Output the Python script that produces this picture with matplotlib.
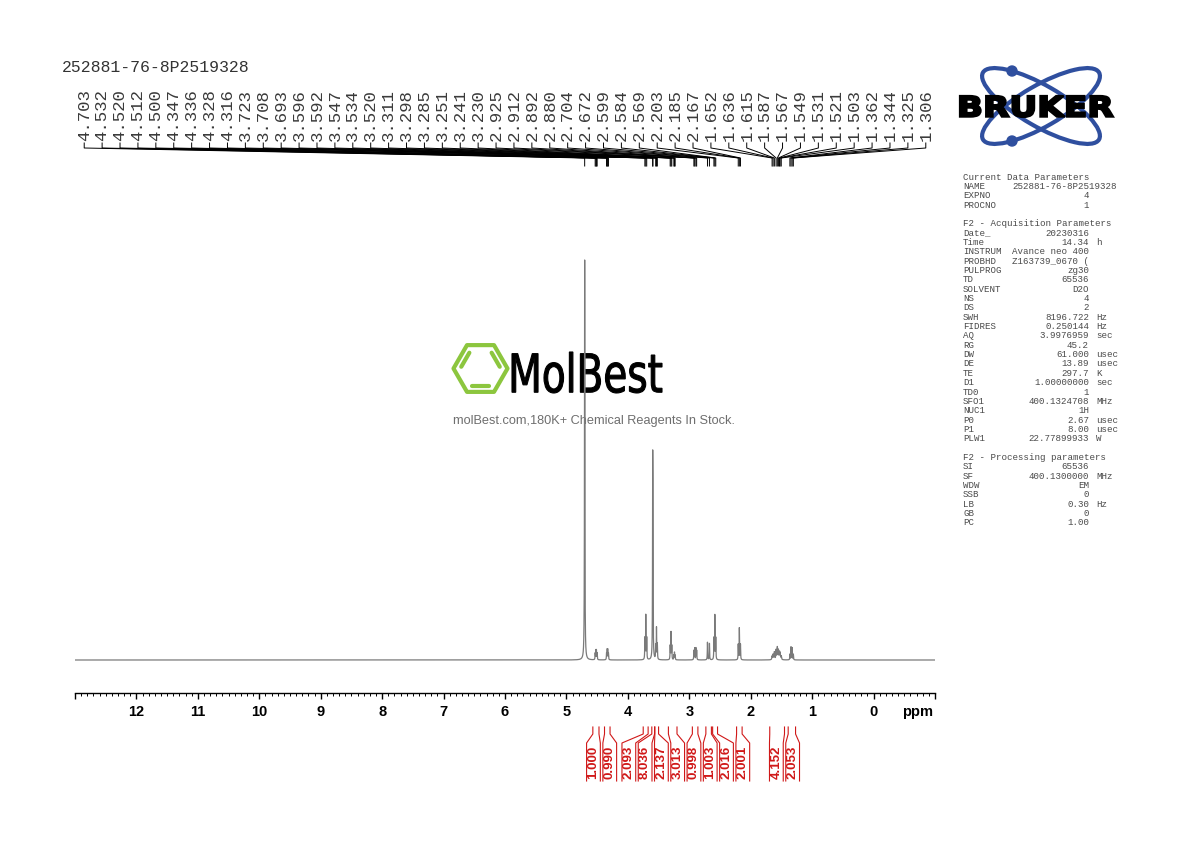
import numpy as np
import matplotlib
matplotlib.use("Agg")
import matplotlib.pyplot as plt
import matplotlib.transforms as mtransforms
from matplotlib.patches import Ellipse, Circle, PathPatch, Polygon
from matplotlib.textpath import TextPath
from matplotlib.font_manager import FontProperties
from matplotlib.ticker import MultipleLocator

W, H = 1190, 842

sample_name = "252881-76-8P2519328"

# picked peaks (ppm) and line heights relative to the tallest line (=100)
peak_ppm = np.array([
    4.703, 4.532, 4.520, 4.512, 4.500, 4.347, 4.336, 4.328, 4.316,
    3.723, 3.708, 3.693, 3.596, 3.592, 3.547, 3.534, 3.520,
    3.311, 3.298, 3.285, 3.251, 3.241, 3.230,
    2.925, 2.912, 2.892, 2.880, 2.704, 2.672, 2.599, 2.584, 2.569,
    2.203, 2.185, 2.167,
    1.652, 1.636, 1.615, 1.587, 1.567, 1.549, 1.531, 1.521, 1.503,
    1.362, 1.344, 1.325, 1.306])
peak_height = np.array([
    100, 1.6, 2.2, 2.2, 1.6, 1.6, 2.4, 2.4, 1.6,
    5.3, 11.0, 5.3, 40, 32, 3.3, 7.8, 3.8,
    3.4, 6.8, 3.4, 1.1, 1.8, 1.1,
    2.3, 2.9, 2.9, 2.3, 4.4, 4.1, 5.3, 11.0, 5.3,
    3.8, 7.9, 3.8,
    0.9, 1.3, 1.9, 2.4, 3.0, 2.3, 1.7, 1.4, 0.9,
    1.4, 3.2, 3.0, 1.4])

# integrals
integral_values = ["1.000", "0.990", "2.093", "8.036", "2.137", "3.013",
                   "0.998", "1.003", "2.016", "2.001", "4.152", "2.053"]
integral_from = [4.57, 4.38, 3.75, 3.61, 3.56, 3.34, 2.95, 2.73, 2.62, 2.23, 1.69, 1.39]
integral_to = [4.47, 4.29, 3.67, 3.565, 3.50, 3.20, 2.86, 2.64, 2.54, 2.14, 1.45, 1.27]

tick_values = list(range(-1, 14))

param_rows = [
    ("Current Data Parameters", None, None),
    ("NAME", sample_name, None),
    ("EXPNO", "4", None),
    ("PROCNO", "1", None),
    ("", None, None),
    ("F2 - Acquisition Parameters", None, None),
    ("Date_", "20230316", None),
    ("Time", "14.34", "h"),
    ("INSTRUM", "Avance neo 400", None),
    ("PROBHD", "Z163739_0670 (", None),
    ("PULPROG", "zg30", None),
    ("TD", "65536", None),
    ("SOLVENT", "D2O", None),
    ("NS", "4", None),
    ("DS", "2", None),
    ("SWH", "8196.722", "Hz"),
    ("FIDRES", "0.250144", "Hz"),
    ("AQ", "3.9976959", "sec"),
    ("RG", "45.2", None),
    ("DW", "61.000", "usec"),
    ("DE", "13.89", "usec"),
    ("TE", "297.7", "K"),
    ("D1", "1.00000000", "sec"),
    ("TD0", "1", None),
    ("SFO1", "400.1324708", "MHz"),
    ("NUC1", "1H", None),
    ("P0", "2.67", "usec"),
    ("P1", "8.00", "usec"),
    ("PLW1", "22.77899933", "W"),
    ("", None, None),
    ("F2 - Processing parameters", None, None),
    ("SI", "65536", None),
    ("SF", "400.1300000", "MHz"),
    ("WDW", "EM", None),
    ("SSB", "0", None),
    ("LB", "0.30", "Hz"),
    ("GB", "0", None),
    ("PC", "1.00", None),
]

RED = "#d01818"
GREY_TXT = "#4a4a4a"
MONO = "Liberation Mono"
SANS = "Liberation Sans"

fig = plt.figure(figsize=(W / 100, H / 100), dpi=100)

# overlay in pixel coordinates (y down) for page decorations
ov = fig.add_axes([0, 0, 1, 1])
ov.set_xlim(0, W)
ov.set_ylim(H, 0)
ov.axis("off")

ax = fig.add_axes([75 / W, 1 - 693 / H, 860 / W, (693 - 100) / H])
ax.set_zorder(2)
ax.patch.set_visible(False)

# spectrum built from the peak list (Lorentzian lines)
xs = np.linspace(13, -1, 140001)
widths = np.full(len(peak_ppm), 0.003)
widths[peak_ppm > 4.6] = 0.0035
widths[(peak_ppm > 1.45) & (peak_ppm < 1.7)] = 0.005
spec = (peak_height[:, None] /
        (1 + ((xs[None, :] - peak_ppm[:, None]) / widths[:, None]) ** 2)).sum(0)
ax.plot(xs, spec, color="#7a7a7a", lw=0.9)
ax.set_xlim(13, -1)
ax.set_ylim(-8.25, 140)

for s in ["left", "right", "top"]:
    ax.spines[s].set_visible(False)
ax.spines["bottom"].set_linewidth(1)
ax.set_yticks([])
ax.set_xticks(tick_values, labels=[str(v) if 0 <= v <= 12 else "" for v in tick_values])
ax.xaxis.set_minor_locator(MultipleLocator(0.1))
ax.tick_params(axis="x", which="major", length=4.5, width=1, pad=4.5, labelsize=10.5)
ax.tick_params(axis="x", which="minor", length=2.2, width=0.7)
for lab in ax.get_xticklabels():
    lab.set_fontweight("bold")
    lab.set_family(SANS)

bt = mtransforms.blended_transform_factory(ax.transData, ov.transData)
ax.text(-0.72, 712, "ppm", transform=bt, ha="center", va="center",
        fontsize=10.5, fontweight="bold", family=SANS, clip_on=False)

# peak labels along the top
lab_x = np.linspace(12.85, -0.85, len(peak_ppm))
for lx, p in zip(lab_x, peak_ppm):
    ax.text(lx, 141, f"{p:.3f}", rotation=90, ha="center", va="bottom",
            transform=bt, family=MONO, fontsize=12.5, color="#3a3a3a", clip_on=False)
    ax.plot([lx, lx, p, p], [143, 148, 158, 166], transform=bt,
            color="black", lw=0.7, clip_on=False)


# integral labels, pushed apart so they don't overlap
def spread(centers, gap):
    groups = [[c] for c in centers]

    def pos(g):
        m = np.mean(g)
        return [m + gap * ((len(g) - 1) / 2 - k) for k in range(len(g))]

    merged = True
    while merged:
        merged = False
        for i in range(len(groups) - 1):
            if pos(groups[i])[-1] - pos(groups[i + 1])[0] < gap:
                groups[i] = groups[i] + groups.pop(i + 1)
                merged = True
                break
    return [p for g in groups for p in pos(g)]


centers = [(a + b) / 2 for a, b in zip(integral_from, integral_to)]
int_x = spread(centers, 0.265)
d = 0.112
for val, a, b, L in zip(integral_values, integral_from, integral_to, int_x):
    ax.plot([a, a, L + d, L + d], [727, 734, 743, 781], transform=bt,
            color=RED, lw=0.8, clip_on=False)
    ax.plot([b, b, L - d, L - d], [727, 734, 743, 781], transform=bt,
            color=RED, lw=0.8, clip_on=False)
    ax.text(L, 762, val, rotation=90, ha="center", va="center", transform=bt,
            color=RED, fontsize=9.5, fontweight="bold", family=SANS, clip_on=False)

# title
ov.text(62, 68, sample_name, family=MONO, fontsize=11.9, va="center", color="#333333")

# parameter block
y0, step = 177, 9.35
for i, (key, val, unit) in enumerate(param_rows):
    y = y0 + i * step
    ov.text(963, y, key, family=MONO, fontsize=6.6, va="center", color=GREY_TXT)
    if val is not None:
        xr = 1117 if key == "NAME" else 1089
        ov.text(xr, y, val, family=MONO, fontsize=6.6, va="center", ha="right", color=GREY_TXT)
    if unit is not None:
        ov.text(1096, y, unit, family=MONO, fontsize=6.6, va="center", color=GREY_TXT)


def text_in_box(s, x0, y0, x1, y1, color, family, weight="normal", edge="none", elw=0, z=3):
    tp = TextPath((0, 0), s, size=100, prop=FontProperties(family=family, weight=weight))
    ext = tp.get_extents()
    tr = (mtransforms.Affine2D().translate(-ext.x0, -ext.y0)
          .scale((x1 - x0) / ext.width, -(y1 - y0) / ext.height).translate(x0, y1))
    ov.add_patch(PathPatch(tr.transform_path(tp), facecolor=color, edgecolor=edge,
                           lw=elw, transform=ov.transData, zorder=z))


# Bruker logo
blue = "#2f4f9f"
ov.add_patch(Ellipse((1041, 106), 134, 41, angle=30, fill=False, ec=blue, lw=3, zorder=2))
ov.add_patch(Ellipse((1041, 106), 134, 41, angle=-30, fill=False, ec=blue, lw=3, zorder=2))
ov.add_patch(Circle((1012, 71), 5, color=blue, zorder=2))
ov.add_patch(Circle((1012, 141), 5, color=blue, zorder=2))
text_in_box("BRUKER", 960, 96, 1113, 117, "black", "DejaVu Sans", "bold", edge="black", elw=1.6)

# MolBest watermark
green = "#8cc63e"
cx, cy, r = 480.5, 368.5, 27
ang = np.deg2rad(np.arange(0, 360, 60))
ov.add_patch(Polygon(np.c_[cx + r * np.cos(ang), cy - r * np.sin(ang)], closed=True,
                     fill=False, ec=green, lw=3, joinstyle="round", zorder=2))
ri = 0.75 * r
for k in [1, 3, 5]:
    a1, a2 = np.deg2rad(60 * k - 60), np.deg2rad(60 * k)
    p1 = np.array([cx + ri * np.cos(a1), cy - ri * np.sin(a1)])
    p2 = np.array([cx + ri * np.cos(a2), cy - ri * np.sin(a2)])
    m = (p1 + p2) / 2
    p1, p2 = m + 0.8 * (p1 - m), m + 0.8 * (p2 - m)
    ov.plot([p1[0], p2[0]], [p1[1], p2[1]], color=green, lw=3, solid_capstyle="round", zorder=2)
text_in_box("MolBest", 512, 352, 662, 393, "black", "DejaVu Sans", edge="black", elw=0.8, z=2)
ov.text(594, 421, "molBest.com,180K+ Chemical Reagents In Stock.", ha="center", va="center",
        family=SANS, fontsize=9.2, color="#6e6e6e")

fig.savefig("out.png", dpi=100)
